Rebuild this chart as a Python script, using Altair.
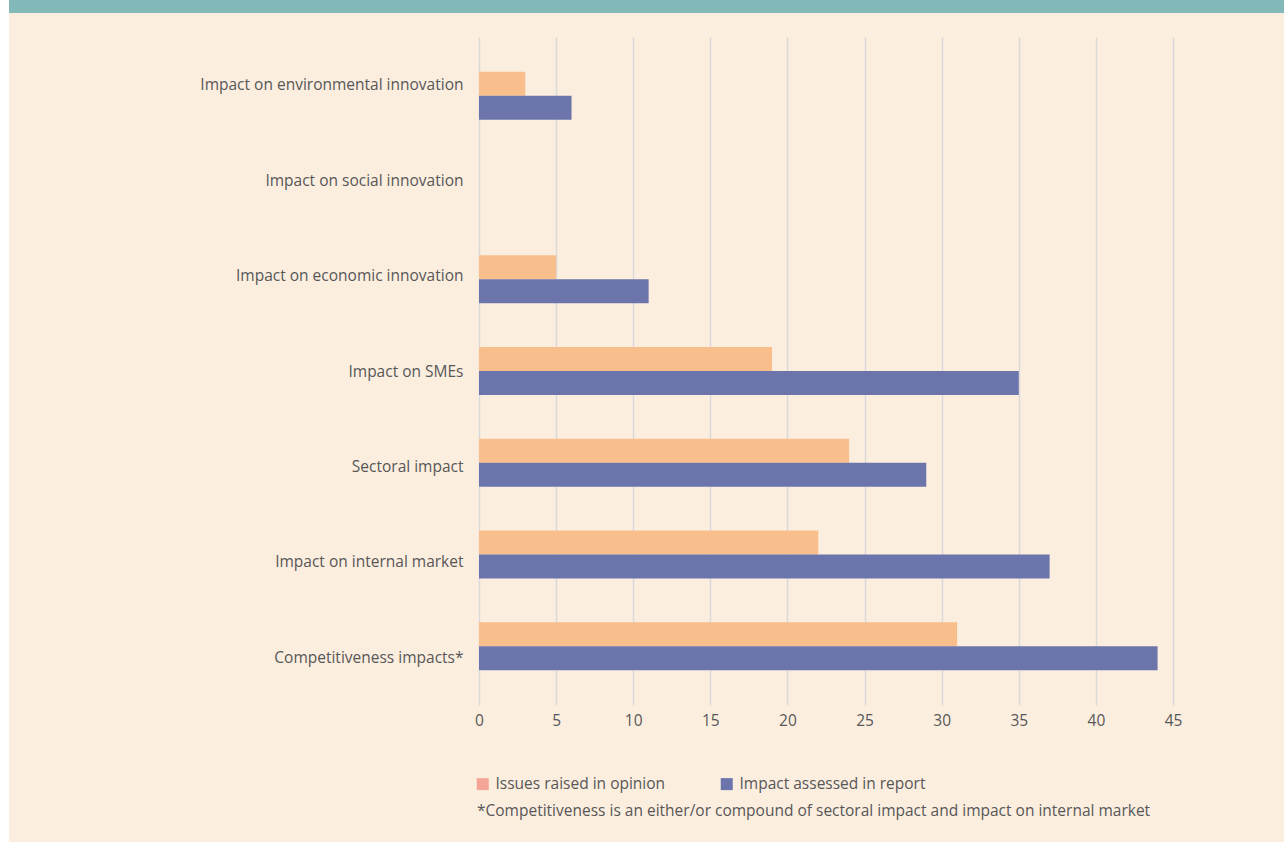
import altair as alt
import pandas as pd

categories = [
    "Impact on environmental innovation",
    "Impact on social innovation",
    "Impact on economic innovation",
    "Impact on SMEs",
    "Sectoral impact",
    "Impact on internal market",
    "Competitiveness impacts*",
]
issues_raised = [3, 0, 5, 19, 24, 22, 31]
impact_assessed = [6, 0, 11, 35, 29, 37, 44]
series = ["Issues raised in opinion", "Impact assessed in report"]
x_ticks = [0, 5, 10, 15, 20, 25, 30, 35, 40, 45]
footnote = "*Competitiveness is an either/or compound of sectoral impact and impact on internal market"

FONT = "Open Sans"
TXT = "#575757"
FS = 15.5
W, H = 694, 668

rows = []
for c, a, b in zip(categories, issues_raised, impact_assessed):
    rows.append({"category": c, "series": series[0], "value": a})
    rows.append({"category": c, "series": series[1], "value": b})
df = pd.DataFrame(rows)
cat_df = pd.DataFrame({"category": categories})
ser_df = pd.DataFrame({"series": series})

xenc = alt.X(
    "value:Q",
    scale=alt.Scale(domain=[0, 45], nice=False),
    axis=alt.Axis(values=x_ticks, title=None, domain=False, ticks=False, grid=True,
                  gridColor="#D9D9D9", gridWidth=1.5, labelFontSize=FS, labelColor=TXT,
                  labelPadding=8, labelFont=FONT, labelFlush=False),
)

# category labels on a plain band scale spanning the whole plot height
labels = alt.Chart(cat_df).mark_point(opacity=0).encode(
    x=alt.value(0),
    y=alt.Y(
        "category:N",
        sort=categories,
        scale=alt.Scale(paddingInner=0, paddingOuter=0),
        axis=alt.Axis(title=None, orient="left", domain=False, ticks=False, grid=False, labelPadding=16,
                      labelFontSize=FS, labelColor=TXT, labelFont=FONT, labelLimit=400),
    ),
)

bars = alt.Chart(df).mark_bar().encode(
    x=xenc,
    y=alt.Y(
        "category:N",
        sort=categories,
        scale=alt.Scale(paddingInner=0.477, paddingOuter=0.38),
        axis=None,
    ),
    yOffset=alt.YOffset("series:N", sort=series),
    color=alt.Color(
        "series:N",
        sort=series,
        scale=alt.Scale(domain=series, range=["#F8BE8B", "#6B74AB"]),
        legend=None,
    ),
)

# legend swatches (zero-width marks, legend only)
legend_layer = alt.Chart(ser_df).mark_bar().encode(
    x=alt.value(0), x2=alt.value(0),
    fill=alt.Fill(
        "series:N",
        sort=series,
        scale=alt.Scale(domain=series, range=["#F4A596", "#6B74AB"]),
        legend=alt.Legend(title=None, orient="none", direction="horizontal", legendX=-4, legendY=739,
                          symbolType="square", symbolSize=144, symbolStrokeWidth=0,
                          labelFontSize=FS, labelColor=TXT, labelFont=FONT, columnPadding=53,
                          labelLimit=400, symbolOffset=0, labelOffset=5),
    ),
)

one = pd.DataFrame({"t": [footnote]})

band = alt.Chart(one).mark_rect(color="#83B8B8").encode(
    x=alt.value(-470), x2=alt.value(W + 111), y=alt.value(-37), y2=alt.value(-24)
)
strip = alt.Chart(one).mark_rect(color="#FFFFFF").encode(
    x=alt.value(-479), x2=alt.value(-470), y=alt.value(-37), y2=alt.value(H + 137)
)
note = alt.Chart(one).mark_text(align="left", baseline="middle", fontSize=FS, color=TXT, font=FONT).encode(
    x=alt.value(-2), y=alt.value(774), text="t:N"
)

chart = alt.layer(band, strip, labels, bars, legend_layer, note).resolve_scale(
    y="independent", color="independent", fill="independent"
).properties(
    width=W, height=H,
    autosize=alt.AutoSizeParams(type="none"),
    padding={"left": 479, "top": 37, "right": 111, "bottom": 137},
    background="#FCEEDF",
).configure_view(stroke=None)

chart.save("out.html", embed_options={"renderer": "svg", "actions": False})
